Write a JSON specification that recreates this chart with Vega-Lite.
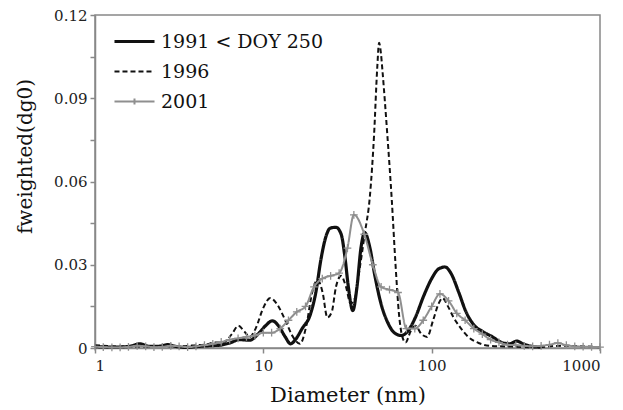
{
  "$schema": "https://vega.github.io/schema/vega-lite/v6.json",
  "width": 505,
  "height": 333,
  "autosize": {"type": "none"},
  "padding": {"left": 95, "top": 15, "right": 23, "bottom": 62},
  "background": "white",
  "config": {
    "view": {"stroke": "#888", "strokeWidth": 1.5},
    "font": "DejaVu Serif"
  },
  "datasets": {
    "curves": [
      {"d": 1.0, "f": 0.0005, "series": "1991 < DOY 250"},
      {"d": 1.3, "f": 0.0003, "series": "1991 < DOY 250"},
      {"d": 1.6, "f": 0.0006, "series": "1991 < DOY 250"},
      {"d": 1.85, "f": 0.0015, "series": "1991 < DOY 250"},
      {"d": 2.1, "f": 0.0006, "series": "1991 < DOY 250"},
      {"d": 2.4, "f": 0.0006, "series": "1991 < DOY 250"},
      {"d": 2.7, "f": 0.0012, "series": "1991 < DOY 250"},
      {"d": 3.0, "f": 0.0006, "series": "1991 < DOY 250"},
      {"d": 3.5, "f": 0.0002, "series": "1991 < DOY 250"},
      {"d": 4.0, "f": 0.0005, "series": "1991 < DOY 250"},
      {"d": 4.7, "f": 0.0008, "series": "1991 < DOY 250"},
      {"d": 5.5, "f": 0.001, "series": "1991 < DOY 250"},
      {"d": 6.3, "f": 0.0018, "series": "1991 < DOY 250"},
      {"d": 7.2, "f": 0.003, "series": "1991 < DOY 250"},
      {"d": 8.3, "f": 0.0028, "series": "1991 < DOY 250"},
      {"d": 9.3, "f": 0.005, "series": "1991 < DOY 250"},
      {"d": 10.3, "f": 0.008, "series": "1991 < DOY 250"},
      {"d": 11.3, "f": 0.0098, "series": "1991 < DOY 250"},
      {"d": 12.3, "f": 0.008, "series": "1991 < DOY 250"},
      {"d": 13.5, "f": 0.004, "series": "1991 < DOY 250"},
      {"d": 14.5, "f": 0.0015, "series": "1991 < DOY 250"},
      {"d": 15.5, "f": 0.003, "series": "1991 < DOY 250"},
      {"d": 17, "f": 0.007, "series": "1991 < DOY 250"},
      {"d": 19, "f": 0.012, "series": "1991 < DOY 250"},
      {"d": 20.5, "f": 0.02, "series": "1991 < DOY 250"},
      {"d": 22, "f": 0.032, "series": "1991 < DOY 250"},
      {"d": 23.5, "f": 0.04, "series": "1991 < DOY 250"},
      {"d": 25, "f": 0.0432, "series": "1991 < DOY 250"},
      {"d": 27, "f": 0.0435, "series": "1991 < DOY 250"},
      {"d": 29, "f": 0.041, "series": "1991 < DOY 250"},
      {"d": 30.5, "f": 0.033, "series": "1991 < DOY 250"},
      {"d": 32, "f": 0.022, "series": "1991 < DOY 250"},
      {"d": 34, "f": 0.0135, "series": "1991 < DOY 250"},
      {"d": 36, "f": 0.022, "series": "1991 < DOY 250"},
      {"d": 38, "f": 0.036, "series": "1991 < DOY 250"},
      {"d": 40, "f": 0.0415, "series": "1991 < DOY 250"},
      {"d": 43, "f": 0.036, "series": "1991 < DOY 250"},
      {"d": 46, "f": 0.026, "series": "1991 < DOY 250"},
      {"d": 50, "f": 0.016, "series": "1991 < DOY 250"},
      {"d": 55, "f": 0.009, "series": "1991 < DOY 250"},
      {"d": 60, "f": 0.0055, "series": "1991 < DOY 250"},
      {"d": 66, "f": 0.0045, "series": "1991 < DOY 250"},
      {"d": 72, "f": 0.006, "series": "1991 < DOY 250"},
      {"d": 80, "f": 0.011, "series": "1991 < DOY 250"},
      {"d": 90, "f": 0.019, "series": "1991 < DOY 250"},
      {"d": 100, "f": 0.025, "series": "1991 < DOY 250"},
      {"d": 110, "f": 0.0285, "series": "1991 < DOY 250"},
      {"d": 120, "f": 0.0292, "series": "1991 < DOY 250"},
      {"d": 130, "f": 0.027, "series": "1991 < DOY 250"},
      {"d": 145, "f": 0.02, "series": "1991 < DOY 250"},
      {"d": 160, "f": 0.013, "series": "1991 < DOY 250"},
      {"d": 180, "f": 0.008, "series": "1991 < DOY 250"},
      {"d": 200, "f": 0.006, "series": "1991 < DOY 250"},
      {"d": 230, "f": 0.004, "series": "1991 < DOY 250"},
      {"d": 260, "f": 0.002, "series": "1991 < DOY 250"},
      {"d": 290, "f": 0.0015, "series": "1991 < DOY 250"},
      {"d": 320, "f": 0.0025, "series": "1991 < DOY 250"},
      {"d": 350, "f": 0.0015, "series": "1991 < DOY 250"},
      {"d": 400, "f": 0.0005, "series": "1991 < DOY 250"},
      {"d": 450, "f": 0.0003, "series": "1991 < DOY 250"},

      {"d": 1.0, "f": 0.001, "series": "1996"},
      {"d": 1.5, "f": 0.0005, "series": "1996"},
      {"d": 2.0, "f": 0.0005, "series": "1996"},
      {"d": 2.5, "f": 0.0008, "series": "1996"},
      {"d": 3.0, "f": 0.0005, "series": "1996"},
      {"d": 3.5, "f": 0.0007, "series": "1996"},
      {"d": 4.0, "f": 0.001, "series": "1996"},
      {"d": 4.5, "f": 0.0012, "series": "1996"},
      {"d": 5.2, "f": 0.002, "series": "1996"},
      {"d": 5.8, "f": 0.002, "series": "1996"},
      {"d": 6.5, "f": 0.005, "series": "1996"},
      {"d": 7.1, "f": 0.008, "series": "1996"},
      {"d": 7.7, "f": 0.006, "series": "1996"},
      {"d": 8.3, "f": 0.004, "series": "1996"},
      {"d": 9.0, "f": 0.007, "series": "1996"},
      {"d": 10, "f": 0.0145, "series": "1996"},
      {"d": 11, "f": 0.018, "series": "1996"},
      {"d": 12, "f": 0.016, "series": "1996"},
      {"d": 13.5, "f": 0.01, "series": "1996"},
      {"d": 15, "f": 0.004, "series": "1996"},
      {"d": 16.5, "f": 0.0015, "series": "1996"},
      {"d": 18, "f": 0.008, "series": "1996"},
      {"d": 19.5, "f": 0.02, "series": "1996"},
      {"d": 21, "f": 0.0245, "series": "1996"},
      {"d": 22.5, "f": 0.02, "series": "1996"},
      {"d": 24, "f": 0.011, "series": "1996"},
      {"d": 25.5, "f": 0.013, "series": "1996"},
      {"d": 27, "f": 0.022, "series": "1996"},
      {"d": 29, "f": 0.026, "series": "1996"},
      {"d": 31, "f": 0.022, "series": "1996"},
      {"d": 33, "f": 0.016, "series": "1996"},
      {"d": 35, "f": 0.018, "series": "1996"},
      {"d": 37, "f": 0.027, "series": "1996"},
      {"d": 40, "f": 0.041, "series": "1996"},
      {"d": 43, "f": 0.055, "series": "1996"},
      {"d": 45.5, "f": 0.077, "series": "1996"},
      {"d": 47.5, "f": 0.101, "series": "1996"},
      {"d": 48.7, "f": 0.11, "series": "1996"},
      {"d": 50, "f": 0.106, "series": "1996"},
      {"d": 51, "f": 0.1, "series": "1996"},
      {"d": 54.5, "f": 0.077, "series": "1996"},
      {"d": 58, "f": 0.053, "series": "1996"},
      {"d": 61, "f": 0.03, "series": "1996"},
      {"d": 64, "f": 0.012, "series": "1996"},
      {"d": 67, "f": 0.004, "series": "1996"},
      {"d": 70, "f": 0.002, "series": "1996"},
      {"d": 75, "f": 0.006, "series": "1996"},
      {"d": 80, "f": 0.008, "series": "1996"},
      {"d": 87, "f": 0.005, "series": "1996"},
      {"d": 94, "f": 0.004, "series": "1996"},
      {"d": 102, "f": 0.01, "series": "1996"},
      {"d": 110, "f": 0.016, "series": "1996"},
      {"d": 116, "f": 0.018, "series": "1996"},
      {"d": 125, "f": 0.015, "series": "1996"},
      {"d": 135, "f": 0.011, "series": "1996"},
      {"d": 147, "f": 0.0076, "series": "1996"},
      {"d": 165, "f": 0.004, "series": "1996"},
      {"d": 190, "f": 0.0018, "series": "1996"},
      {"d": 220, "f": 0.0008, "series": "1996"},
      {"d": 300, "f": 0.0005, "series": "1996"},
      {"d": 400, "f": 0.0003, "series": "1996"},
      {"d": 600, "f": 0.0008, "series": "1996"},
      {"d": 1000, "f": 0.0003, "series": "1996"},

      {"d": 1.0, "f": 0.0005, "series": "2001"},
      {"d": 1.12, "f": 0.0003, "series": "2001"},
      {"d": 1.26, "f": 0.0002, "series": "2001"},
      {"d": 1.41, "f": 0.0002, "series": "2001"},
      {"d": 1.58, "f": 0.0004, "series": "2001"},
      {"d": 1.78, "f": 0.0008, "series": "2001"},
      {"d": 2.0, "f": 0.0006, "series": "2001"},
      {"d": 2.24, "f": 0.0003, "series": "2001"},
      {"d": 2.51, "f": 0.0004, "series": "2001"},
      {"d": 2.82, "f": 0.0008, "series": "2001"},
      {"d": 3.16, "f": 0.0006, "series": "2001"},
      {"d": 3.55, "f": 0.0003, "series": "2001"},
      {"d": 3.98, "f": 0.0006, "series": "2001"},
      {"d": 4.47, "f": 0.001, "series": "2001"},
      {"d": 5.01, "f": 0.0015, "series": "2001"},
      {"d": 5.62, "f": 0.0022, "series": "2001"},
      {"d": 6.31, "f": 0.003, "series": "2001"},
      {"d": 7.08, "f": 0.0035, "series": "2001"},
      {"d": 7.94, "f": 0.004, "series": "2001"},
      {"d": 8.91, "f": 0.0045, "series": "2001"},
      {"d": 10.0, "f": 0.0055, "series": "2001"},
      {"d": 11.2, "f": 0.0055, "series": "2001"},
      {"d": 12.6, "f": 0.007, "series": "2001"},
      {"d": 14.1, "f": 0.01, "series": "2001"},
      {"d": 15.8, "f": 0.013, "series": "2001"},
      {"d": 17.8, "f": 0.015, "series": "2001"},
      {"d": 20.0, "f": 0.022, "series": "2001"},
      {"d": 22.4, "f": 0.025, "series": "2001"},
      {"d": 25.1, "f": 0.026, "series": "2001"},
      {"d": 28.2, "f": 0.027, "series": "2001"},
      {"d": 31.6, "f": 0.036, "series": "2001"},
      {"d": 34.5, "f": 0.048, "series": "2001"},
      {"d": 39.8, "f": 0.041, "series": "2001"},
      {"d": 44.7, "f": 0.03, "series": "2001"},
      {"d": 50.1, "f": 0.022, "series": "2001"},
      {"d": 56.2, "f": 0.021, "series": "2001"},
      {"d": 63.1, "f": 0.02, "series": "2001"},
      {"d": 70.8, "f": 0.007, "series": "2001"},
      {"d": 79.4, "f": 0.007, "series": "2001"},
      {"d": 89.1, "f": 0.01, "series": "2001"},
      {"d": 100, "f": 0.015, "series": "2001"},
      {"d": 112, "f": 0.0195, "series": "2001"},
      {"d": 126, "f": 0.017, "series": "2001"},
      {"d": 141, "f": 0.0125, "series": "2001"},
      {"d": 158, "f": 0.01, "series": "2001"},
      {"d": 178, "f": 0.007, "series": "2001"},
      {"d": 200, "f": 0.005, "series": "2001"},
      {"d": 224, "f": 0.003, "series": "2001"},
      {"d": 251, "f": 0.002, "series": "2001"},
      {"d": 282, "f": 0.0012, "series": "2001"},
      {"d": 316, "f": 0.001, "series": "2001"},
      {"d": 355, "f": 0.0008, "series": "2001"},
      {"d": 398, "f": 0.0006, "series": "2001"},
      {"d": 447, "f": 0.0008, "series": "2001"},
      {"d": 501, "f": 0.0012, "series": "2001"},
      {"d": 562, "f": 0.0018, "series": "2001"},
      {"d": 631, "f": 0.001, "series": "2001"},
      {"d": 708, "f": 0.0006, "series": "2001"},
      {"d": 794, "f": 0.0005, "series": "2001"},
      {"d": 891, "f": 0.0004, "series": "2001"},
      {"d": 1000, "f": 0.0003, "series": "2001"}
    ]
  },
  "data": {"name": "curves"},
  "encoding": {
    "x": {
      "field": "d", "type": "quantitative",
      "scale": {"type": "log", "domain": [1, 1000], "nice": false},
      "axis": {
        "title": "Diameter  (nm)", "titleFont": "DejaVu Serif",
        "titleFontSize": 21, "titleFontWeight": "normal", "titleColor": "#111", "titlePadding": 11,
        "values": [1, 10, 100, 1000],
        "labelExpr": "format(datum.value, 'd')", "labelFont": "DejaVu Serif",
        "labelFontSize": 15, "labelColor": "#222", "labelPadding": 5,
        "grid": false, "domainColor": "#888", "domainWidth": 1.5, "tickColor": "#888", "tickSize": 5, "tickWidth": 1.5
      }
    },
    "y": {
      "field": "f", "type": "quantitative",
      "scale": {"domain": [0, 0.12], "nice": false},
      "axis": {
        "title": "fweighted(dg0)", "titleFont": "DejaVu Serif",
        "titleFontSize": 20, "titleFontWeight": "normal", "titleColor": "#111", "titlePadding": 18,
        "titleY": 141,
        "values": [0, 0.015, 0.03, 0.045, 0.06, 0.075, 0.09, 0.105, 0.12],
        "labelExpr": "round(datum.value * 1000) % 30 == 0 ? format(datum.value, '~g') : ''", "labelFont": "DejaVu Serif",
        "labelFontSize": 15, "labelColor": "#222", "labelPadding": 3,
        "grid": false, "domainColor": "#888", "domainWidth": 1.5, "tickColor": "#888", "tickSize": 5, "tickWidth": 1.5
      }
    }
  },
  "layer": [
    {
      "mark": {"type": "line", "interpolate": "monotone"},
      "encoding": {
        "color": {
          "field": "series", "type": "nominal",
          "scale": {"domain": ["1991 < DOY 250", "1996", "2001"], "range": ["#111111", "#111111", "#8f8f8f"]},
          "legend": {
            "title": null, "orient": "none", "legendX": 30, "legendY": 17, "padding": 0,
            "symbolType": "M-3,0L3,0", "symbolSize": 178,
            "labelFont": "DejaVu Serif", "labelFontSize": 19, "labelColor": "#111", "labelOffset": 17, "labelLimit": 400,
            "rowPadding": 10,
            "encode": {"symbols": {"update": {"shape": {"signal": "datum.value == '2001' ? 'M-3,0L3,0M0,-0.45L0,0.45' : 'M-3,0L3,0'"}}}}
          }
        },
        "strokeDash": {
          "field": "series", "type": "nominal",
          "scale": {"domain": ["1991 < DOY 250", "1996", "2001"], "range": [[1, 0], [5, 3], [1, 0]]},
          "legend": {"title": null}
        },
        "strokeWidth": {
          "field": "series", "type": "nominal",
          "scale": {"type": "ordinal", "domain": ["1991 < DOY 250", "1996", "2001"], "range": [3.2, 2, 2]},
          "legend": {"title": null}
        }
      }
    },
    {
      "transform": [{"filter": "datum.series == '2001'"}],
      "mark": {"type": "point", "shape": "M-1,0L1,0M0,-1L0,1", "filled": false, "color": "#8f8f8f", "strokeWidth": 1.3, "size": 60, "opacity": 1}
    }
  ]
}
